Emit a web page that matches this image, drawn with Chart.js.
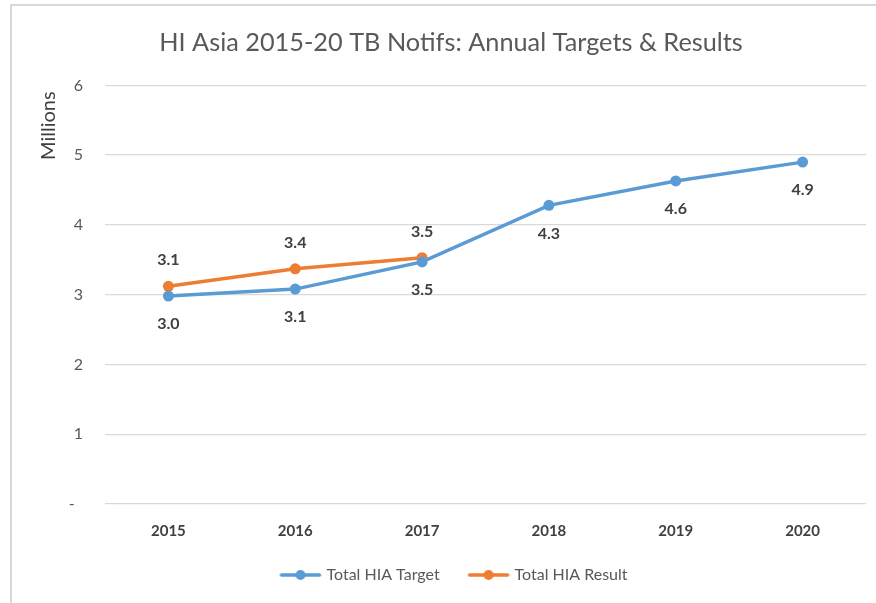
<!DOCTYPE html>
<html>
<head>
<meta charset="utf-8">
<script src="https://cdn.jsdelivr.net/npm/chart.js@4"></script>
<style>
  html, body { margin: 0; padding: 0; background: #fff; overflow: hidden; }
  #wrap {
    position: absolute; left: 10px; top: 4px;
    width: 880px; height: 599px;
    border-left: 2px solid #d9d9d9; border-top: 2px solid #d9d9d9;
  }
</style>
</head>
<body>
<div id="wrap"><canvas id="tbChart" width="880" height="597"></canvas></div>
<script>
var years = ["2015", "2016", "2017", "2018", "2019", "2020"];
var targetValues = [2.98, 3.08, 3.47, 4.28, 4.63, 4.90];
var resultValues = [3.12, 3.37, 3.53, null, null, null];

var blue = "#5B9BD5";
var orange = "#ED7D31";
var FONT = "Lato, 'Open Sans', sans-serif";

// little line-with-dot picture for the legend (left margin gives the gap between items)
function legendMarker(color) {
    var c = document.createElement("canvas");
    c.width = 56; c.height = 12;
    var g = c.getContext("2d");
    g.strokeStyle = color; g.lineWidth = 3.5; g.lineCap = "round";
    g.beginPath(); g.moveTo(13, 6); g.lineTo(51, 6); g.stroke();
    g.fillStyle = color;
    g.beginPath(); g.arc(32, 6, 5, 0, Math.PI * 2); g.fill();
    return c;
}

// value labels: target below the point, result above it
const valueLabels = {
    id: "valueLabels",
    afterDatasetsDraw(chart) {
        const ctx = chart.ctx;
        ctx.save();
        ctx.font = "bold 16px " + FONT;
        ctx.fillStyle = "#404040";
        ctx.textAlign = "center";
        ctx.textBaseline = "middle";
        chart.data.datasets.forEach((ds, i) => {
            const meta = chart.getDatasetMeta(i);
            meta.data.forEach((pt, j) => {
                const v = ds.data[j];
                if (v === null) return;
                const dy = i === 0 ? 28 : -26;
                ctx.fillText(v.toFixed(1), pt.x, pt.y + dy);
            });
        });
        ctx.restore();
    }
};

// "Millions" sits near the top of the value axis, like the original
const axisLabel = {
    id: "axisLabel",
    afterDraw(chart) {
        const ctx = chart.ctx;
        ctx.save();
        ctx.translate(37, chart.chartArea.top + 6);
        ctx.rotate(-Math.PI / 2);
        ctx.font = "20px " + FONT;
        ctx.fillStyle = "#404040";
        ctx.textAlign = "right";
        ctx.textBaseline = "middle";
        ctx.fillText("Millions", 0, 0);
        ctx.restore();
    }
};

var ctx = document.getElementById("tbChart").getContext("2d");

const tbChart = new Chart(ctx, {
    type: "line",
    data: {
        labels: years,
        datasets: [{
            label: "Total HIA Target",
            data: targetValues,
            borderColor: blue,
            backgroundColor: blue,
            borderWidth: 3.5,
            pointRadius: 5.5,
            pointBorderWidth: 0,
            tension: 0
        }, {
            label: "Total HIA Result",
            data: resultValues,
            borderColor: orange,
            backgroundColor: orange,
            borderWidth: 3.5,
            pointRadius: 5.5,
            pointBorderWidth: 0,
            tension: 0
        }]
    },
    options: {
        responsive: false,
        animation: false,
        layout: { padding: { left: 24, right: 26, top: 0, bottom: 10 } },
        scales: {
            x: {
                offset: true,
                grid: { display: false, drawTicks: false },
                border: { display: false },
                ticks: {
                    color: "#404040",
                    font: { family: FONT, size: 15, weight: "bold" },
                    padding: 18
                },
                afterFit: (s) => { s.height = 40; }
            },
            y: {
                min: 0, max: 6,
                grid: { color: "#d9d9d9", lineWidth: 1.3, drawTicks: false },
                border: { display: false },
                ticks: {
                    stepSize: 1,
                    color: "#595959",
                    font: { family: FONT, size: 16 },
                    padding: 22,
                    callback: (v) => v === 0 ? "-  " : v
                },
                afterFit: (s) => { s.width = 69; }
            }
        },
        plugins: {
            tooltip: { enabled: false },
            title: {
                display: true,
                text: "HI Asia 2015-20 TB Notifs: Annual Targets & Results",
                color: "#595959",
                font: { family: FONT, size: 25.3, weight: "normal" },
                padding: { top: 22, bottom: 27 }
            },
            legend: {
                position: "bottom",
                labels: {
                    usePointStyle: true,
                    pointStyleWidth: 44,
                    color: "#595959",
                    font: { family: FONT, size: 16 },
                    padding: 23,
                    generateLabels: (chart) => {
                        const items = Chart.defaults.plugins.legend.labels.generateLabels(chart);
                        items.forEach((it, i) => {
                            it.pointStyle = legendMarker(i === 0 ? blue : orange);
                        });
                        return items;
                    }
                }
            }
        }
    },
    plugins: [valueLabels, axisLabel]
});
</script>
</body>
</html>
